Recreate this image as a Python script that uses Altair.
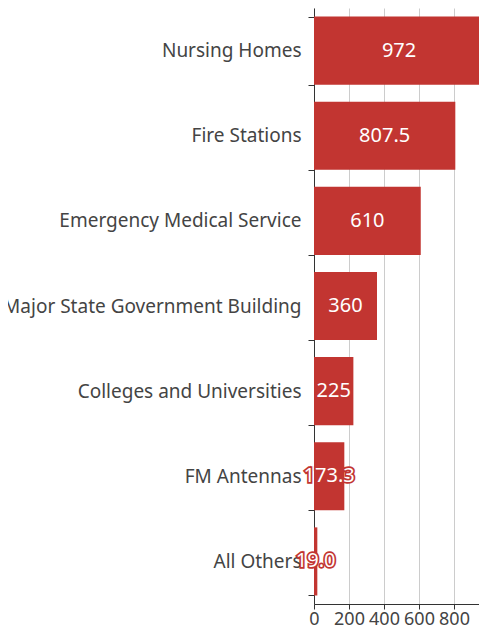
import altair as alt
import pandas as pd

categories = ["Nursing Homes", "Fire Stations", "Emergency Medical Service",
              "Major State Government Building", "Colleges and Universities",
              "FM Antennas", "All Others"]
values = [972, 807.5, 610, 360, 225, 173.3, 19.0]
value_labels = ["972", "807.5", "610", "360", "225", "173.3", "19.0"]
x_ticks = [0, 200, 400, 600, 800]

df = pd.DataFrame({
    "category": categories,
    "value": values,
    "label": value_labels,
})
df["half"] = df["value"] / 2
df["outside"] = df["value"] < 200

FONT = "Noto Sans"
RED = "#c23531"

PLOT_W = 165
X_MAX = PLOT_W / 0.175

y_enc = alt.Y("category:N", sort=categories,
              scale=alt.Scale(paddingInner=0.2, paddingOuter=0.1),
              axis=alt.Axis(title=None, tickBand="extent", tickSize=6,
                            labelPadding=7, labelFontSize=19, labelFont=FONT,
                            labelColor="#444", labelLimit=400,
                            domainColor="#333", tickColor="#333",
                            grid=False))

x_scale = alt.Scale(domain=[0, X_MAX], nice=False)

bars = alt.Chart(df).mark_bar(color=RED, clip=True).encode(
    x=alt.X("value:Q", scale=x_scale,
            axis=alt.Axis(title=None, values=x_ticks, grid=True, gridColor="#ccc",
                          labelFontSize=18, labelFont=FONT, labelColor="#444",
                          labelFlush=False, labelOverlap=False, tickSize=5,
                          domainColor="#333", tickColor="#333", labelPadding=1)),
    y=y_enc,
)

outline = alt.Chart(df).transform_filter("datum.outside").mark_text(
    font=FONT, fontSize=20, color=RED, stroke=RED, strokeWidth=3.5,
    align="center", baseline="middle"
).encode(
    x=alt.X("half:Q", scale=x_scale),
    y=alt.Y("category:N", sort=categories),
    text="label:N",
)

labels = alt.Chart(df).mark_text(
    font=FONT, fontSize=20, color="white", align="center", baseline="middle"
).encode(
    x=alt.X("half:Q", scale=x_scale),
    y=alt.Y("category:N", sort=categories),
    text="label:N",
)

chart = alt.layer(bars, outline, labels).properties(
    width=PLOT_W, height=596,
    autosize=alt.AutoSizeParams(type="none"),
    padding={"left": 306, "top": 0, "right": 0, "bottom": 26},
).configure_view(stroke=None)

chart.save("out.html", embed_options={"renderer": "svg", "actions": False})
